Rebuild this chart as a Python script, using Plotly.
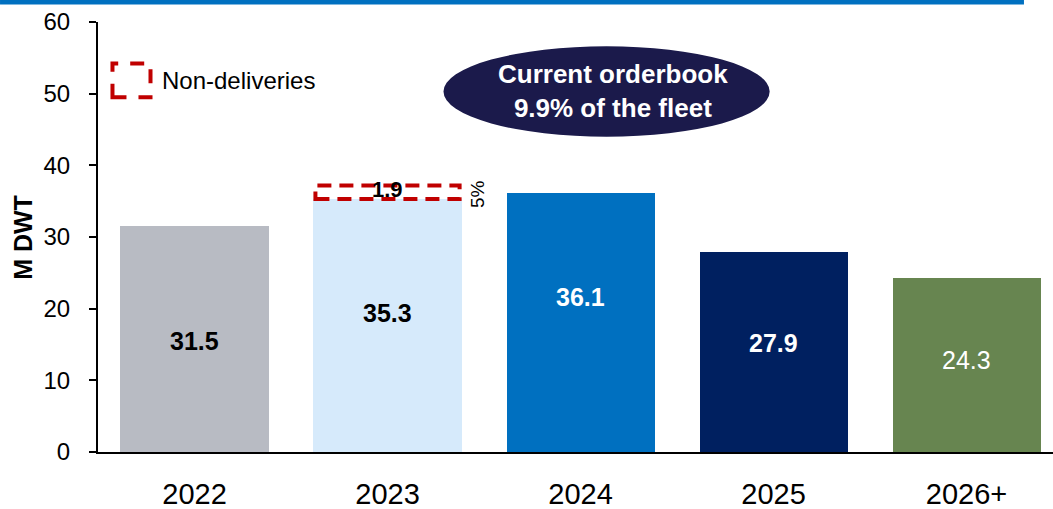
import plotly.graph_objects as go

# Deliveries by year (million DWT)
years = ["2022", "2023", "2024", "2025", "2026+"]
deliveries = [31.5, 35.3, 36.1, 27.9, 24.3]
non_delivered = [0, 1.9, 0, 0, 0]
non_delivered_share = ["", "5%", "", "", ""]
bar_colors = ["#B8BBC3", "#D6EAFB", "#0070C0", "#002060", "#678550"]
label_colors = ["black", "black", "white", "white", "white"]
label_bold = [True, True, True, True, False]
label_frac = [0.49, 0.55, 0.60, 0.545, 0.53]  # vertical placement of value labels within each bar
y_ticks = [0, 10, 20, 30, 40, 50, 60]

FONT = "Liberation Sans, Arial, sans-serif"
RED = "#C00000"
BAR_W = 0.767

fig = go.Figure()
fig.add_trace(go.Bar(
    x=list(range(len(years))), y=deliveries, width=BAR_W,
    marker=dict(color=bar_colors, line=dict(width=0)),
    hoverinfo="skip",
))

annotations = []
shapes = []

# Value labels inside bars
for i, v in enumerate(deliveries):
    txt = f"<b>{v}</b>" if label_bold[i] else f"{v}"
    annotations.append(dict(x=i, y=v * label_frac[i], xref="x", yref="y", text=txt,
                            showarrow=False, font=dict(family=FONT, size=25, color=label_colors[i])))

# Non-delivered volumes as dashed boxes on top of the bars
for i, nd in enumerate(non_delivered):
    if nd <= 0:
        continue
    base = deliveries[i]
    shapes.append(dict(type="rect", xref="x", yref="y",
                       x0=i - BAR_W / 2 + 0.01, x1=i + BAR_W / 2 - 0.01,
                       y0=base, y1=base + nd,
                       line=dict(color=RED, width=4, dash="14px,8px"), fillcolor="rgba(0,0,0,0)"))
    annotations.append(dict(x=i, y=base + nd * 0.7, xref="x", yref="y", text=f"<b>{nd}</b>",
                            showarrow=False, font=dict(family=FONT, size=22, color="black")))
    annotations.append(dict(x=i + 0.466, y=base + nd * 0.4, xref="x", yref="y",
                            text=non_delivered_share[i], textangle=-90, showarrow=False,
                            font=dict(family=FONT, size=19, color="black")))

# Legend entry for non-deliveries
shapes.append(dict(type="rect", xref="x", yref="y", x0=-0.425, x1=-0.228, y0=49.5, y1=54.2,
                   line=dict(color=RED, width=4, dash="14px,12px"), fillcolor="rgba(0,0,0,0)"))
annotations.append(dict(x=-0.18, y=51.9, xref="x", yref="y", text="Non-deliveries",
                        xanchor="left", showarrow=False,
                        font=dict(family=FONT, size=24, color="black")))

# Orderbook callout
shapes.append(dict(type="circle", xref="x", yref="y", x0=1.29, x1=2.98, y0=44.0, y1=56.6,
                   fillcolor="#1B1A4B", line=dict(width=0)))
annotations.append(dict(x=2.17, y=50.4, xref="x", yref="y",
                        text="<b>Current orderbook<br>9.9% of the fleet</b>",
                        showarrow=False, align="center",
                        font=dict(family=FONT, size=26, color="white")))

# Top rule
shapes.append(dict(type="rect", xref="paper", yref="paper", x0=-0.1026, x1=0.9696,
                   y0=1.0405, y1=1.053, fillcolor="#0070C0", line=dict(width=0)))

# Y axis title
annotations.append(dict(x=-0.078, y=0.4993, xref="paper", yref="paper", text="<b>M DWT</b>",
                        xanchor="center", yanchor="middle",
                        textangle=-90, showarrow=False,
                        font=dict(family=FONT, size=25, color="black")))

fig.update_layout(
    width=1053, height=509,
    margin=dict(l=98, r=0, t=22, b=57),
    plot_bgcolor="white", paper_bgcolor="white",
    showlegend=False,
    bargap=0,
    shapes=shapes,
    annotations=annotations,
    xaxis=dict(range=[-0.5, 4.448], tickmode="array", tickvals=list(range(len(years))),
               ticktext=years, showline=True, linecolor="black", linewidth=2,
               ticks="", showgrid=False, zeroline=False, ticklabelstandoff=15,
               automargin=False,
               tickfont=dict(family=FONT, size=29, color="black")),
    yaxis=dict(range=[0, 60], tickmode="array", tickvals=y_ticks, showline=True,
               linecolor="black", linewidth=2, ticks="outside", ticklen=7, tickwidth=2,
               tickcolor="black", showgrid=False, zeroline=False, ticklabelstandoff=14,
               automargin=False,
               tickfont=dict(family=FONT, size=24, color="black")),
)

fig.write_html("out.html")
